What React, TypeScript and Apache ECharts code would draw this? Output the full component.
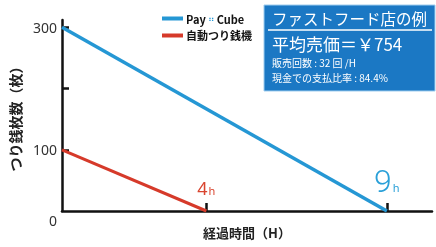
import React, { useEffect, useRef } from "react";
import * as echarts from "echarts";

const seriesNames = ["PayCube", "自動つり銭機"];
const payCubeData: [number, number][] = [[0, 300], [9, 0]];
const changerData: [number, number][] = [[0, 100], [4, 0]];
const yTickValues = [100, 200, 300];
const yLabelValues = [0, 100, 300];
const xTickValues = [4, 9];
const boxTitle = "ファストフード店の例";
const boxLines = ["平均売価＝￥754", "販売回数 : 32 回 /H", "現金での支払比率 : 84.4%"];

const BLUE = "#2597d4";
const RED = "#d63a2a";
const FONT = "'Noto Sans CJK JP', 'Noto Sans', sans-serif";

export default function App() {
  const ref = useRef<HTMLDivElement>(null);
  useEffect(() => {
    if (!ref.current) return;
    const chart = echarts.init(ref.current, null, { renderer: "svg" });
    const mk = (arr: [number, number][], labelCfg: any) =>
      arr.map((p, i) => (i === arr.length - 1 ? { value: p, label: labelCfg } : { value: p }));
    chart.setOption({
      animation: false,
      textStyle: { fontFamily: FONT },
      grid: { left: 60, right: 4, top: 20, bottom: 36 },
      legend: {
        orient: "vertical",
        left: 157,
        top: 8,
        itemWidth: 21,
        itemHeight: 4,
        itemGap: 6,
        icon: "rect",
        data: seriesNames,
        formatter: (n: string) => (n === "PayCube" ? "{p|Pay}{s|⠶}{p|Cube}" : "{r|" + n + "}"),
        textStyle: {
          fontFamily: FONT,
          padding: [0, 0, 0, -2],
          rich: {
            p: { fontSize: 11, fontWeight: "bold", color: "#111", fontFamily: FONT },
            s: { fontSize: 9, color: BLUE, padding: [0, 2, 0, 2] },
            r: { fontSize: 11, fontWeight: "bold", color: "#111", fontFamily: FONT },
          },
        },
      },
      xAxis: {
        type: "value",
        min: 0,
        max: 10.25,
        name: "経過時間（H）",
        nameLocation: "middle",
        nameGap: 15,
        nameTextStyle: { fontSize: 13, color: "#222", fontWeight: "bold", fontFamily: FONT },
        axisLine: { show: true, onZero: false, lineStyle: { color: "#111", width: 2.5 } },
        axisTick: { show: true, inside: true, length: 8, customValues: xTickValues, lineStyle: { color: "#111", width: 2.5 } },
        axisLabel: { show: false },
        splitLine: { show: false },
      },
      yAxis: {
        type: "value",
        min: 0,
        max: 312,
        name: "つり銭枚数（枚）",
        nameLocation: "middle",
        nameRotate: 90,
        nameGap: 40,
        nameTextStyle: { fontSize: 14, color: "#222", fontWeight: "bold", fontFamily: FONT },
        axisLine: { show: true, lineStyle: { color: "#111", width: 2.5 } },
        axisTick: { show: true, inside: true, length: 7, customValues: yTickValues, lineStyle: { color: "#111", width: 2.5 } },
        axisLabel: {
          customValues: yLabelValues,
          margin: 5,
          fontSize: 14,
          color: "#333",
          fontFamily: "'Noto Sans', sans-serif",
          formatter: (v: number) => (v === 0 ? "{z|0}" : String(v)),
          rich: { z: { fontSize: 14, color: "#333", padding: [18, 0, 0, 0], fontFamily: "'Noto Sans', sans-serif" } },
        },
        splitLine: { show: false },
      },
      series: [
        {
          name: seriesNames[0],
          type: "line",
          symbol: "circle",
          symbolSize: 0,
          showSymbol: true,
          lineStyle: { color: BLUE, width: 3.5 },
          itemStyle: { color: BLUE },
          data: mk(payCubeData, {
            show: true,
            position: "top",
            distance: 14,
            formatter: "{n|9}{h|h}",
            rich: {
              n: { fontSize: 32, color: "#2aa0d8", fontFamily: "Roboto", fontWeight: 300, verticalAlign: "bottom" },
              h: { fontSize: 11, color: "#2aa0d8", fontFamily: "'Noto Sans'", padding: [0, 0, 4, 1], verticalAlign: "bottom" },
            },
          }),
        },
        {
          name: seriesNames[1],
          type: "line",
          symbol: "circle",
          symbolSize: 0,
          showSymbol: true,
          lineStyle: { color: RED, width: 3 },
          itemStyle: { color: RED },
          data: mk(changerData, {
            show: true,
            position: "top",
            distance: 14,
            formatter: "{n|4}{h|h}",
            rich: {
              n: { fontSize: 18, color: "#d9452f", fontFamily: "'Noto Sans'", verticalAlign: "bottom" },
              h: { fontSize: 11, color: "#d9452f", fontFamily: "'Noto Sans'", padding: [0, 0, 1, 1], verticalAlign: "bottom" },
            },
          }),
        },
      ],
      graphic: [
        {
          type: "rect",
          shape: { x: 264, y: 5, width: 171, height: 86 },
          style: { fill: "#1b78c4", stroke: "#9fcdef", lineWidth: 1 },
          z: 10,
        },
        {
          type: "text",
          x: 272,
          y: 10,
          z: 11,
          style: { text: boxTitle, fill: "#fff", font: "15.5px " + FONT },
        },
        {
          type: "line",
          shape: { x1: 268, y1: 30, x2: 432, y2: 30 },
          style: { stroke: "#fff", lineWidth: 1.5 },
          z: 11,
        },
        {
          type: "text",
          x: 272,
          y: 35,
          z: 11,
          style: { text: boxLines[0], fill: "#fff", font: "17px " + FONT },
        },
        {
          type: "text",
          x: 272,
          y: 57,
          z: 11,
          style: { text: boxLines[1], fill: "#fff", font: "10px " + FONT },
        },
        {
          type: "text",
          x: 272,
          y: 72,
          z: 11,
          style: { text: boxLines[2], fill: "#fff", font: "10px " + FONT },
        },
      ],
    });
    return () => chart.dispose();
  }, []);
  return <div ref={ref} style={{ position: "fixed", left: 0, top: 0, width: 436, height: 247 }} />;
}
